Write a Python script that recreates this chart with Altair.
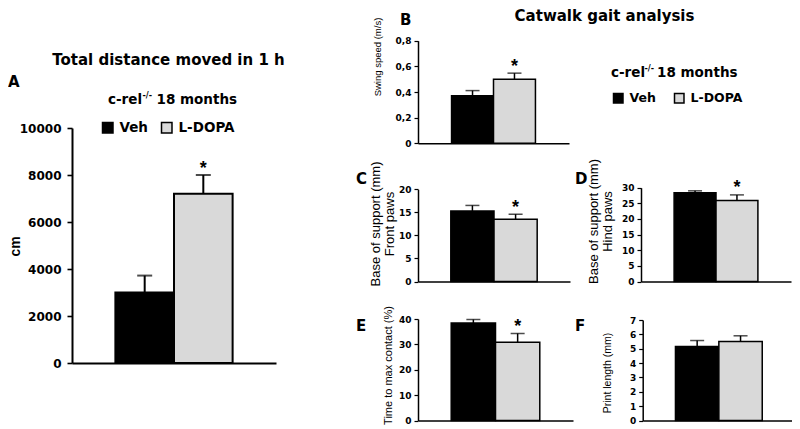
import altair as alt
import pandas as pd

# ---------------- data ----------------
groups = ["Veh", "L-DOPA"]
group_fill = ["#000000", "#d9d9d9"]

distance_mean = [3000, 7200]
distance_sem = [720, 800]
swing_mean = [0.37, 0.50]
swing_sem = [0.041, 0.047]
front_mean = [15.3, 13.5]
front_sem = [1.2, 1.1]
hind_mean = [28.4, 25.9]
hind_sem = [0.6, 1.8]
tmax_mean = [38.4, 30.8]
tmax_sem = [1.4, 3.5]
plength_mean = [5.15, 5.5]
plength_sem = [0.42, 0.40]
sig_star = ["", "*"]
no_star = ["", ""]

distance_ticks = [0, 2000, 4000, 6000, 8000, 10000]
swing_ticks = [0, 0.2, 0.4, 0.6, 0.8]
front_ticks = [0, 5, 10, 15, 20]
hind_ticks = [0, 5, 10, 15, 20, 25, 30]
tmax_ticks = [0, 10, 20, 30, 40]
plength_ticks = [0, 1, 2, 3, 4, 5, 6, 7]

# ---------------- layout ----------------
W, H = 784, 413
NARROW = "Liberation Sans"
WIDE = "DejaVu Sans"


def panel(mean, sem, stars, ticks, xr, yr, pad_outer, title, title_x, title_y,
          title_size, title_weight="normal", label_size=9, big=False,
          label_expr=None, legend=None):
    df = pd.DataFrame({"group": groups, "mean": mean, "sem": sem, "star": stars})
    df["hi"] = df["mean"] + df["sem"]
    lw = 2 if big else 1.5

    def xs():
        return alt.Scale(type="band", domain=groups, range=xr, paddingInner=0,
                         paddingOuter=pad_outer)

    def ys():
        return alt.Scale(domain=[ticks[0], ticks[-1]], range=yr, nice=False, zero=True)

    x_axis = alt.Axis(orient="bottom", offset=yr[0] - H, labels=False, ticks=False,
                      title=None, domainColor="black", domainWidth=lw)
    axis_kw = dict(orient="left", offset=-xr[0], values=ticks, grid=False,
                   domainColor="black", domainWidth=lw, tickColor="black",
                   tickWidth=1.6 if big else 1.2, tickSize=5 if big else 4,
                   labelFont=WIDE, labelFontWeight="bold", labelFontSize=label_size,
                   labelColor="black", labelPadding=6 if big else 3,
                   labelOverlap=False, labelFlush=False,
                   title=title, titleX=title_x, titleY=title_y, titleAngle=270,
                   titleAlign="center", titleBaseline="middle",
                   titleFont=NARROW, titleFontSize=title_size,
                   titleFontWeight=title_weight, titleColor="black",
                   titleLineHeight=13.5)
    if label_expr:
        axis_kw["labelExpr"] = label_expr
    else:
        axis_kw["format"] = "d"
    y_axis = alt.Axis(**axis_kw)
    fill_kw = dict(scale=alt.Scale(domain=groups, range=group_fill), sort=groups)
    fill_kw["legend"] = legend
    base = alt.Chart(df)
    bars = base.mark_bar(stroke="black", strokeWidth=lw).encode(
        x=alt.X("group:N", sort=groups, scale=xs(), axis=x_axis),
        y=alt.Y("mean:Q", scale=ys(), axis=y_axis),
        fill=alt.Fill("group:N", **fill_kw),
    )
    err = base.mark_rule(color="black", strokeWidth=lw).encode(
        x=alt.X("group:N", sort=groups, scale=xs(), axis=None),
        y=alt.Y("mean:Q", scale=ys(), axis=None), y2="hi:Q")
    cap = base.mark_tick(color="black", thickness=lw, size=15 if big else 14,
                         orient="horizontal").encode(
        x=alt.X("group:N", sort=groups, scale=xs(), axis=None),
        y=alt.Y("hi:Q", scale=ys(), axis=None))
    star = base.mark_text(font=NARROW, fontWeight="bold", fontSize=18, color="black",
                          align="center", baseline="alphabetic", dy=-1.5).encode(
        x=alt.X("group:N", sort=groups, scale=xs(), axis=None, bandPosition=0.5),
        y=alt.Y("hi:Q", scale=ys(), axis=None), text="star:N")
    return [bars, err, cap, star]


def legend_at(x, y, sym, fs, colpad):
    return alt.Legend(orient="none", legendX=x, legendY=y, direction="horizontal",
                      title=None, symbolType="square", symbolSize=sym,
                      labelFont=WIDE, labelFontWeight="bold", labelFontSize=fs,
                      labelColor="black", labelOffset=5, columnPadding=colpad,
                      padding=0, symbolStrokeColor="black", symbolStrokeWidth=1.5)


def label(txt, x, y, size, font=WIDE, weight="bold", align="left"):
    return alt.Chart(alt.Data(values=[{}])).mark_text(
        text=txt, font=font, fontWeight=weight, fontSize=size, align=align,
        baseline="alphabetic", color="black").encode(x=alt.value(x), y=alt.value(y))


comma = "datum.value == 0 ? '0' : replace(format(datum.value, '.1f'), '.', ',')"

pA = panel(distance_mean, distance_sem, sig_star, distance_ticks, [64, 268], [355, 120],
           0.74, "cm", -57, 238, 14, title_weight="bold", label_size=12, big=True,
           legend=legend_at(93, 113, 110, 13.5, 10))
pB = panel(swing_mean, swing_sem, sig_star, swing_ticks, [410, 561], [135.3, 32.7],
           0.80, "Swing speed (m/s)", -41, 48.5, 9.5, label_expr=comma,
           legend=legend_at(604, 84, 90, 12.5, 15))
pC = panel(front_mean, front_sem, sig_star, front_ticks, [410, 562], [273.5, 181.3],
           0.76, ["Base of support (mm)", "Front paws"], -42.5, 215.5, 13)
pD = panel(hind_mean, hind_sem, sig_star, hind_ticks, [633, 783], [273.5, 179.7],
           0.79, ["Base of support (mm)", "Hind paws"], -47.5, 213, 13)
pE = panel(tmax_mean, tmax_sem, sig_star, tmax_ticks, [410, 565], [412.5, 311],
           0.75, "Time to max contact (%)", -30, 357, 11)
pF = panel(plength_mean, plength_sem, no_star, plength_ticks, [634.7, 787], [412.5, 312],
           0.755, "Print length (mm)", -35.7, 364.5, 10.5)

texts = [
    label("A", 0, 79, 15),
    label("Total distance moved in 1 h", 160.5, 57, 15, align="center"),
    label("c-rel", 100, 96, 13.5),
    label("-/-", 134.5, 90, 8),
    label("18 months", 148.5, 96, 13.5),
    label("B", 392, 17, 15),
    label("Catwalk gait analysis", 596.5, 13, 15, align="center"),
    label("c-rel", 603, 69, 13.5),
    label("-/-", 636.5, 63, 8),
    label("18 months", 649, 69, 13.5),
    label("C", 348, 176, 15),
    label("D", 567, 176, 15),
    label("E", 348, 323, 15),
    label("F", 567, 323, 15),
]

chart = alt.layer(*pA, *pB, *pC, *pD, *pE, *pF, *texts).resolve_scale(
    x="independent", y="independent", fill="independent"
).resolve_axis(x="independent", y="independent").resolve_legend(
    fill="independent"
).properties(
    width=W, height=H, padding=0, autosize=alt.AutoSizeParams(type="pad")
).configure_view(stroke=None)

chart.save("out.html", embed_options={"renderer": "svg", "actions": False})
